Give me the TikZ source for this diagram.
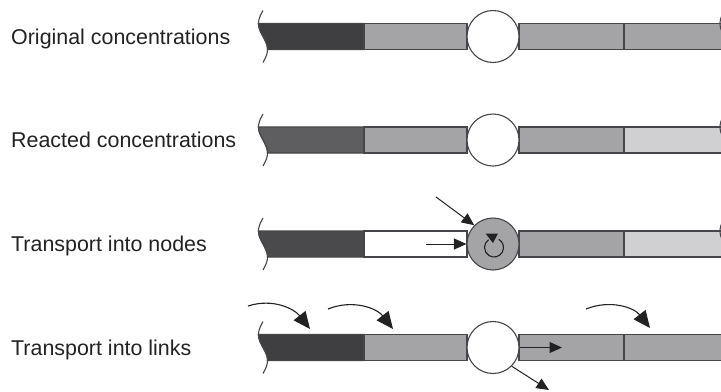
\documentclass[tikz,border=0pt]{standalone}
\usepackage{fontspec}
\setmainfont{Liberation Sans}
\usetikzlibrary{arrows.meta}
\definecolor{dkA}{HTML}{3F3F41}
\definecolor{dkB}{HTML}{5E5E60}
\definecolor{dkC}{HTML}{4A4A4C}
\definecolor{gr}{HTML}{A4A4A7}
\definecolor{lt}{HTML}{D0D0D2}
\definecolor{bord}{HTML}{46464A}
\definecolor{ink}{HTML}{222222}
\tikzset{
  seg/.style={draw=bord, line width=1.1bp, rectangle, inner sep=0pt, minimum height=26bp},
  junc/.style={draw=bord, line width=1.1bp, circle, inner sep=0pt, minimum size=52bp},
  lab/.style={anchor=base west, inner sep=0pt, text=ink, font=\fontsize{21.5}{25}\selectfont},
  arr/.style={ink, line width=1bp, -{Triangle[length=12.5bp,width=11bp]}},
  carr/.style={ink, line width=1.1bp, -{Triangle[length=17bp,width=15bp]}},
  wave/.style={draw=bord, line width=1.1bp}
}
% #1 y centre, #2-#5 segment fills, #6 circle fill, #7 name, #8 label, #9 right wave (1/0)
\newcommand\myrow[9]{%
 \begin{scope}[shift={(0,#1)}]
  \filldraw[fill=#2, draw=bord, line width=1.1bp] plot[domain=-13:13,samples=25,variable=\t] ({263+4.5*sin(\t*180/26)},\t) -- (364,13) -- (364,-13) -- cycle;
  \draw[wave] plot[domain=-26:26,samples=40,variable=\t] ({263+4.5*sin(\t*180/26)},\t);
  \node[seg, fill=#3, minimum width=103bp] (#7a) at (415.5,0) {};
  \node[seg, fill=#4, minimum width=105bp] (#7b) at (571.5,0) {};
  \node[seg, fill=#5, minimum width=106bp] (#7c) at (677,0) {};
  \ifnum#9=1 \draw[wave] plot[domain=-26:26,samples=40,variable=\t] ({724.5+4.5*sin(\t*180/26)},\t);\fi
  \node[junc, fill=#6] (#7) at (493,0) {};
  \node[lab] (#7t) at (11,7.5) {#8};
 \end{scope}}
\begin{document}
\begin{tikzpicture}[x=1bp,y=-1bp]
\useasboundingbox (0,0) rectangle (721,391);
\clip (0,0) rectangle (721,391);
\myrow{36.5}{dkA}{gr}{gr}{gr}{white}{c1}{Original concentrations}{1}
\myrow{140}{dkB}{gr}{gr}{lt}{white}{c2}{Reacted concentrations}{1}
\myrow{244}{dkC}{white}{gr}{lt}{gr}{c3}{Transport into nodes}{1}
\myrow{347.5}{dkA}{gr}{gr}{gr}{white}{c4}{Transport into links}{0}
% row 3 arrows
\coordinate (d3) at (436,197);
\coordinate (h3) at (426,244);
\draw[arr] (d3) -- (c3.north west);
\draw[arr] (h3) -- (c3.west);
\draw[ink, line width=1.1bp] (494,247.5) ++(-60:9.5) arc[start angle=-60, end angle=235, radius=9.5];
\fill[ink] (485.5,233.5) -- (498,233.5) -- (493,243) -- cycle;
% row 4 arrows
\coordinate (p1) at (248,306);
\coordinate (q1) at (310,329);
\coordinate (p2) at (328,309);
\coordinate (q2) at (393,329);
\coordinate (p3) at (586,309);
\coordinate (q3) at (650,328);
\draw[carr] (p1) to[out=18,in=128] (q1);
\draw[carr] (p2) to[out=22,in=128] (q2);
\draw[carr] (p3) to[out=22,in=128] (q3);
\coordinate (h4) at (562,347.5);
\coordinate (d4) at (549,390);
\draw[arr] (c4.east) -- (h4);
\draw[arr] (c4.south east) -- (d4);
\end{tikzpicture}
\end{document}
